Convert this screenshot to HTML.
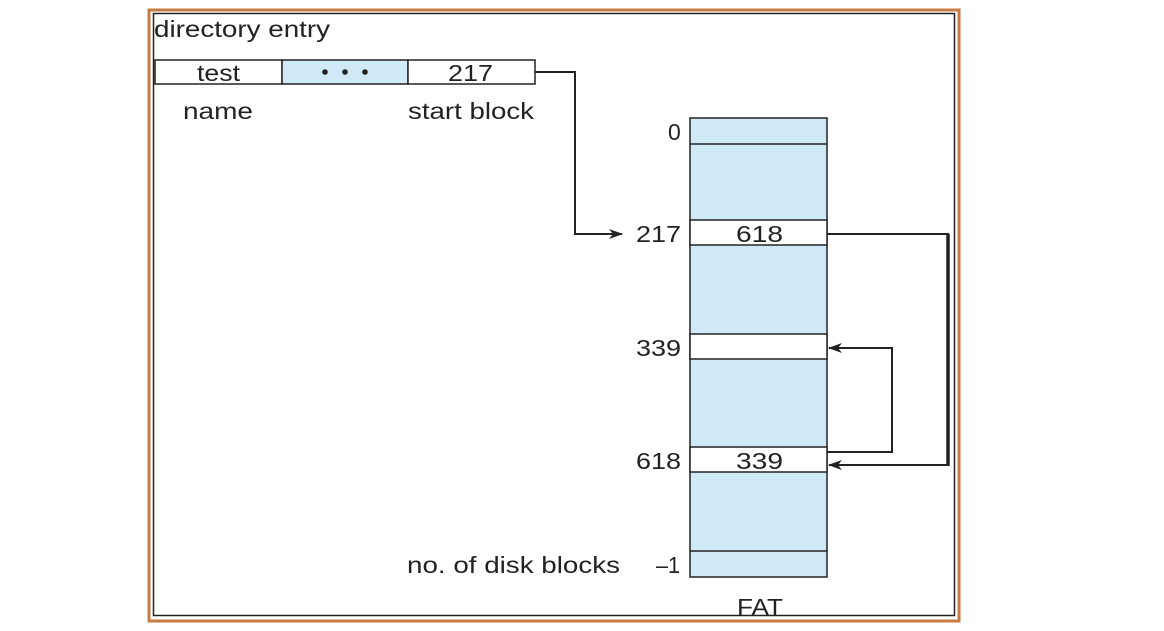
<!DOCTYPE html>
<html><head><style>
body{margin:0;background:#fff;}
svg text{font-family:"Liberation Sans",sans-serif;fill:#222;}
</style></head><body>
<svg width="1164" height="626" xmlns="http://www.w3.org/2000/svg">
<defs><marker id="a" markerWidth="14" markerHeight="10" refX="13" refY="5" orient="auto" markerUnits="userSpaceOnUse"><path d="M0,0 L14,5 L0,10 L4,5z" fill="#222"/></marker></defs>
<rect x="149" y="10" width="810" height="611" fill="none" stroke="#c87a45" stroke-width="3"/>
<rect x="153.5" y="13.5" width="801" height="602" fill="none" stroke="#222" stroke-width="1.5"/>
<text x="154" y="37" font-size="23" textLength="176" lengthAdjust="spacingAndGlyphs">directory entry</text>
<rect x="155" y="60" width="127" height="24" fill="#fff" stroke="#222" stroke-width="1.5"/>
<rect x="282" y="60" width="126" height="24" fill="#d0e9f7" stroke="#222" stroke-width="1.5"/>
<rect x="408" y="60" width="127" height="24" fill="#fff" stroke="#222" stroke-width="1.5"/>
<text x="197" y="81" font-size="23" textLength="43" lengthAdjust="spacingAndGlyphs">test</text>
<circle cx="325" cy="72" r="2.8" fill="#222"/><circle cx="345" cy="72" r="2.8" fill="#222"/><circle cx="365" cy="72" r="2.8" fill="#222"/>
<text x="448" y="81" font-size="23" textLength="45" lengthAdjust="spacingAndGlyphs">217</text>
<text x="183" y="119" font-size="23" textLength="70" lengthAdjust="spacingAndGlyphs">name</text>
<text x="408" y="119" font-size="23" textLength="126" lengthAdjust="spacingAndGlyphs">start block</text>
<polyline points="535,72 575,72 575,234 622,234" fill="none" stroke="#222" stroke-width="2" marker-end="url(#a)"/>
<rect x="690" y="118" width="137" height="459" fill="#d0e9f7" stroke="#222" stroke-width="1.5"/>
<g stroke="#222" stroke-width="1.5">
<line x1="690" y1="144" x2="827" y2="144"/>
<rect x="690" y="220" width="137" height="25" fill="#fff"/>
<rect x="690" y="334" width="137" height="25" fill="#fff"/>
<rect x="690" y="447" width="137" height="25" fill="#fff"/>
<line x1="690" y1="551" x2="827" y2="551"/>
</g>
<text x="736" y="242" font-size="23" textLength="47" lengthAdjust="spacingAndGlyphs">618</text>
<text x="736" y="469" font-size="23" textLength="47" lengthAdjust="spacingAndGlyphs">339</text>
<text x="668" y="140" font-size="23">0</text>
<text x="636" y="242" font-size="23" textLength="45" lengthAdjust="spacingAndGlyphs">217</text>
<text x="636" y="356" font-size="23" textLength="45" lengthAdjust="spacingAndGlyphs">339</text>
<text x="636" y="469" font-size="23" textLength="45" lengthAdjust="spacingAndGlyphs">618</text>
<text x="656" y="573" font-size="23" textLength="24" lengthAdjust="spacingAndGlyphs">–1</text>
<text x="407" y="573" font-size="23" textLength="213" lengthAdjust="spacingAndGlyphs">no. of disk blocks</text>
<text x="737" y="615" font-size="23" textLength="46" lengthAdjust="spacingAndGlyphs">FAT</text>
<polyline points="827,234 948,234 948,465 829,465" fill="none" stroke="#222" stroke-width="2" marker-end="url(#a)"/>
<line x1="948" y1="234" x2="948" y2="466" stroke="#222" stroke-width="3.5"/>
<polyline points="827,452 892,452 892,348 829,348" fill="none" stroke="#222" stroke-width="2" marker-end="url(#a)"/>
</svg>
</body></html>
